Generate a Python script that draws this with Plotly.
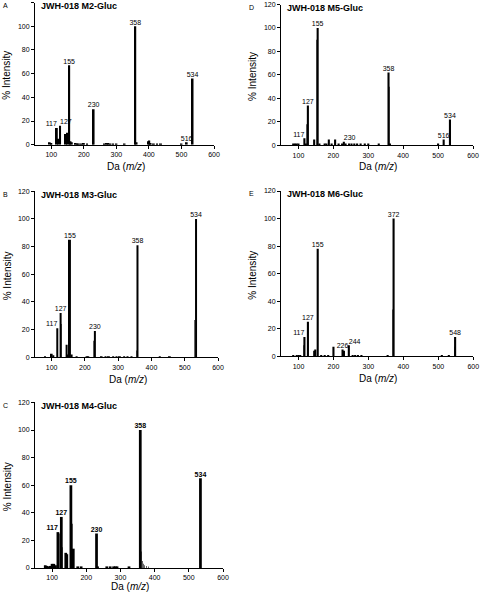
import plotly.graph_objects as go

# ---------------- data ----------------
# Panel A: JWH-018 M2-Gluc
a_mz = [95, 100, 117, 121, 127, 145, 149, 155, 159, 163, 175, 180, 185, 192, 200, 210, 230,
        262, 270, 275, 282, 290, 300, 325, 358, 362, 398, 401, 405, 415, 425, 437, 500, 516, 534]
a_int = [2, 1.5, 14, 5, 16, 9, 10, 67, 3, 2, 1.5, 1, 1, 1, 1.5, 1, 30,
         1, 1.5, 1.5, 1, 1, 1, 1, 100, 2, 3, 3.5, 1.5, 1, 1, 1, 1, 2, 56]
a_mz2 = [228, 356]
a_int2 = [5, 7]
a_labels = [117, 127, 155, 230, 358, 516, 534]

# Panel B: JWH-018 M3-Gluc
b_mz = [80, 100, 105, 117, 127, 145, 148, 155, 160, 175, 205, 210, 230, 250, 262, 272, 285,
        295, 305, 318, 328, 340, 358, 425, 455, 534]
b_int = [0.5, 2.5, 1, 21, 32, 9, 2, 85, 2, 0.5, 0.5, 0.5, 19, 0.5, 0.5, 0.5, 0.5,
         0.5, 0.5, 0.5, 0.5, 0.5, 81, 0.5, 0.5, 100]
b_mz2 = [129, 153, 228, 356, 530]
b_int2 = [24, 57, 12, 5, 27]
b_labels = [117, 127, 155, 230, 358, 534]

# Panel C: JWH-018 M4-Gluc
c_mz = [80, 85, 90, 95, 100, 105, 110, 117, 127, 140, 143, 155, 162, 175, 185, 230, 233,
        260, 270, 280, 285, 290, 325, 358, 534]
c_int = [2, 1.5, 0.5, 1.5, 3, 3, 2, 26, 37, 11, 10, 60, 14, 0.5, 0.5, 25, 1,
         0.5, 1, 0.5, 1, 0.5, 1, 100, 65]
c_mz2 = [121, 130, 158, 361, 364, 367, 371, 376, 382]
c_int2 = [25, 15, 32, 12, 5, 3, 2, 1.5, 1]
c_labels = [117, 127, 155, 230, 358, 534]

# Panel D: JWH-018 M5-Gluc
d_mz = [85, 90, 95, 100, 117, 121, 127, 145, 155, 160, 175, 180, 187, 195, 205, 215, 225,
        230, 235, 245, 252, 260, 268, 278, 290, 300, 330, 358, 362, 500, 516, 534]
d_int = [1.5, 1.5, 1.5, 1.5, 6, 1, 34, 5, 100, 1.5, 1.5, 1.5, 5, 1, 5, 1.5, 1.5,
         3, 1.5, 1.5, 1.5, 1.5, 1.5, 1.5, 1.5, 1, 1, 62, 1, 1, 5, 22]
d_mz2 = [125, 153, 361]
d_int2 = [18, 90, 50]
d_labels = [117, 127, 155, 230, 358, 516, 534]

# Panel E: JWH-018 M6-Gluc
e_mz = [85, 95, 100, 105, 117, 127, 145, 148, 155, 165, 175, 185, 200, 226, 230, 244, 255,
        262, 270, 280, 355, 372, 510, 530, 548]
e_int = [1, 0.5, 1, 1, 14, 25, 4, 5, 78, 1, 1, 1, 7, 5, 4, 8, 1,
         1, 1, 0.5, 1, 100, 0.5, 0.5, 14]
e_mz2 = [115, 370, 546]
e_int2 = [8, 34, 7]
e_labels = [117, 127, 155, 226, 244, 372, 548]

panels = [
    dict(letter="A", title="JWH-018 M2-Gluc", mz=a_mz, it=a_int, mz2=a_mz2, it2=a_int2, labels=a_labels),
    dict(letter="B", title="JWH-018 M3-Gluc", mz=b_mz, it=b_int, mz2=b_mz2, it2=b_int2, labels=b_labels),
    dict(letter="C", title="JWH-018 M4-Gluc", mz=c_mz, it=c_int, mz2=c_mz2, it2=c_int2, labels=c_labels),
    dict(letter="D", title="JWH-018 M5-Gluc", mz=d_mz, it=d_int, mz2=d_mz2, it2=d_int2, labels=d_labels),
    dict(letter="E", title="JWH-018 M6-Gluc", mz=e_mz, it=e_int, mz2=e_mz2, it2=e_int2, labels=e_labels),
]

x_ticks = [100, 200, 300, 400, 500, 600]
y_ticks = [0, 20, 40, 60, 80, 100, 120]

# ---------------- layout (pixels) ----------------
W, H = 480, 595
# plot area boxes in pixels: x0, x1, ytop, ybottom, x-title gap
boxes = {
    "A": (35, 214, 2.6, 144.7, 22),
    "B": (35, 218, 191.3, 357.3, 21.7),
    "C": (35, 223, 402.4, 568, 18.5),
    "D": (281, 473, 4.5, 145.3, 21),
    "E": (281, 473.3, 191, 356.3, 21.7),
}
# label alignment per panel
label_pos = {
    "A": {117: "top left", 127: "top right"},
    "B": {117: "top left"},
    "C": {117: "top left"},
    "D": {117: "top left", 230: "top right"},
    "E": {117: "top left", 244: "top right"},
}
bar_w = {"A": 6, "B": 6, "C": 8, "D": 6, "E": 6}
FONT = "Liberation Sans, Arial, sans-serif"


def px(x):
    return x / W


def py(y):
    return 1 - y / H


fig = go.Figure()
layout = dict(
    template="none",
    width=W, height=H, margin=dict(l=0, r=0, t=0, b=0, pad=0, autoexpand=False),
    paper_bgcolor="white", plot_bgcolor="white", showlegend=False,
    barmode="overlay", font=dict(family=FONT, color="black"),
)
annotations = []

for i, p in enumerate(panels):
    k = "" if i == 0 else str(i + 1)
    L = p["letter"]
    x0, x1, yt, yb, gap = boxes[L]
    bold = L == "C"
    fig.add_trace(go.Bar(x=p["mz2"], y=p["it2"], width=1.5,
                         marker=dict(color="#666666", line=dict(width=0)),
                         xaxis="x" + k, yaxis="y" + k, hoverinfo="x+y"))
    fig.add_trace(go.Bar(x=p["mz"], y=p["it"], width=bar_w[L],
                         marker=dict(color="black", line=dict(width=0)),
                         xaxis="x" + k, yaxis="y" + k, hoverinfo="x+y"))
    lookup = dict(zip(p["mz"], p["it"]))
    lx = p["labels"]
    ly = [lookup[m] for m in lx]
    txt = [("<b>%d</b>" % m) if bold else str(m) for m in lx]
    pos = [label_pos[L].get(m, "top center") for m in lx]
    fig.add_trace(go.Scatter(x=lx, y=ly, mode="text", text=txt, textposition=pos,
                             textfont=dict(size=7, family=FONT, color="#000000"),
                             xaxis="x" + k, yaxis="y" + k, hoverinfo="skip"))
    common = dict(showline=True, linecolor="black", linewidth=1, ticks="outside",
                  ticklen=3, tickwidth=1, tickcolor="black", showgrid=False,
                  zeroline=False, automargin=False,
                  tickfont=dict(size=7, family=FONT, color="black"))
    layout["xaxis" + k] = dict(common, domain=[px(x0), px(x1)], range=[50, 600],
                               tickvals=x_ticks, anchor="y" + k)
    layout["yaxis" + k] = dict(common, domain=[py(yb), py(yt)], range=[0, 120],
                               tickvals=y_ticks, anchor="x" + k)
    # panel letter
    annotations.append(dict(text=L, x=px(x0 - 30), y=py(yt + 3), xref="paper", yref="paper",
                            showarrow=False, xanchor="center", yanchor="middle",
                            font=dict(size=7, family=FONT)))
    # panel title
    annotations.append(dict(text="<b>%s</b>" % p["title"], x=px(x0 + 4), y=py(yt + 3.5),
                            xref="paper", yref="paper", showarrow=False,
                            xanchor="left", yanchor="middle", font=dict(size=9, family=FONT)))
    # x title
    annotations.append(dict(text="Da (<i>m/z</i>)", x=px((x0 + x1) / 2 + 1), y=py(yb + gap),
                            xref="paper", yref="paper", showarrow=False,
                            xanchor="center", yanchor="middle", font=dict(size=10, family=FONT)))
    # y title
    annotations.append(dict(text="% Intensity", x=px(x0 - 28), y=py((yt + yb) / 2 + 2),
                            xref="paper", yref="paper", showarrow=False, textangle=-90,
                            xanchor="center", yanchor="middle", font=dict(size=10, family=FONT)))

layout["annotations"] = annotations
fig.update_layout(**layout)
fig.write_html("out.html", config={"displayModeBar": False},
               post_script="document.body.style.margin='0px';document.body.style.padding='0px';")
